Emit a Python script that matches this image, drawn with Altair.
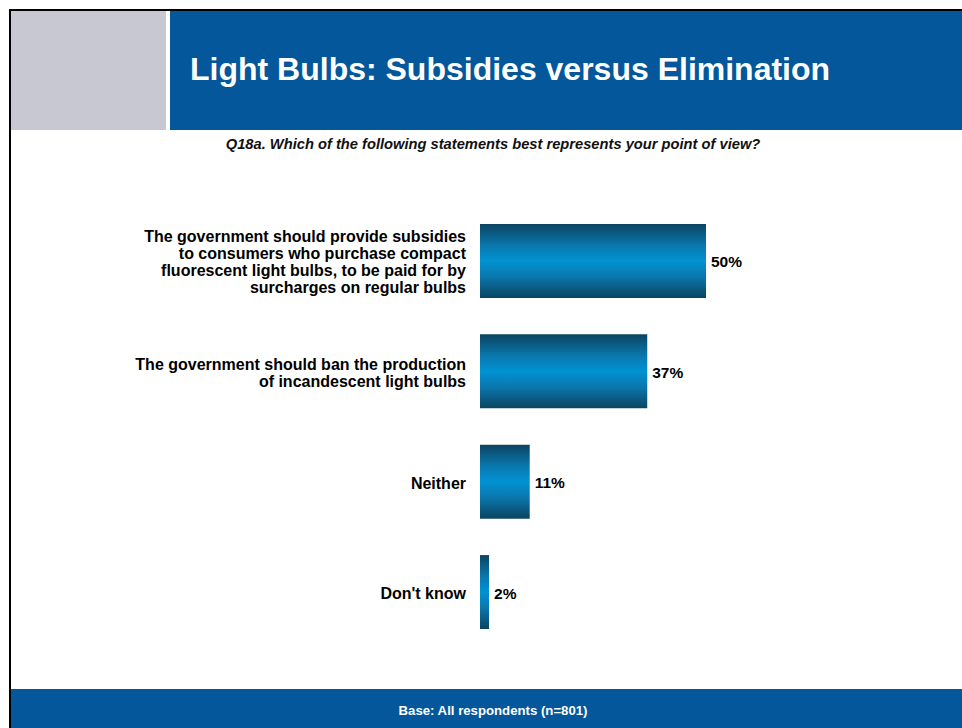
import altair as alt
import pandas as pd

# ---- data ----
categories = ["subsidies", "ban", "neither", "dontknow"]
labels = [
    "The government should provide subsidies\nto consumers who purchase compact\nfluorescent light bulbs, to be paid for by\nsurcharges on regular bulbs",
    "The government should ban the production\nof incandescent light bulbs",
    "Neither",
    "Don't know",
]
values = [50, 37, 11, 2]
value_labels = ["50%", "37%", "11%", "2%"]

title_text = "Light Bulbs: Subsidies versus Elimination"
subtitle_text = "Q18a. Which of the following statements best represents your point of view?"
footer_text = "Base: All respondents (n=801)"

df = pd.DataFrame({"cat": categories, "label": labels, "value": values,
                   "vlabel": value_labels, "zero": [0] * len(values),
                   "nlines": [lab.count("\n") + 1 for lab in labels]})
one = pd.DataFrame({"a": [0]})

FONT = "Liberation Sans"
BLUE = "#03579a"
LINE_H = 17

xscale = alt.Scale(domain=[0, 50], range=[480, 706], nice=False, zero=True)
yscale = alt.Scale(domain=categories, range=[205.75, 647.25],
                   paddingInner=0.33, paddingOuter=0.165)

def rect(x, x2, y, y2, color):
    return alt.Chart(one).mark_rect(color=color).encode(
        x=alt.value(x), x2=alt.value(x2), y=alt.value(y), y2=alt.value(y2))

decor = [
    rect(9, 11, 9, 728, "#000000"),
    rect(9, 962, 9, 11, "#000000"),
    rect(11, 166, 11, 130, "#c8c8d2"),
    rect(170, 962, 11, 130, BLUE),
    rect(11, 962, 689, 728, BLUE),
]

title = alt.Chart(one).mark_text(
    text=title_text, font=FONT, fontSize=32, fontWeight="bold", color="white",
    align="left", baseline="middle").encode(x=alt.value(190), y=alt.value(70))
subtitle = alt.Chart(one).mark_text(
    text=subtitle_text, font=FONT, fontSize=14.7, fontWeight="bold", fontStyle="italic",
    color="#111111", align="center", baseline="middle").encode(x=alt.value(493), y=alt.value(145))
footer = alt.Chart(one).mark_text(
    text=footer_text, font=FONT, fontSize=13.2, fontWeight="bold", color="white",
    align="center", baseline="middle").encode(x=alt.value(493), y=alt.value(711))

gradient = alt.Gradient(
    gradient="linear",
    stops=[
        alt.GradientStop(color="#0b4461", offset=0),
        alt.GradientStop(color="#0a79b0", offset=0.3),
        alt.GradientStop(color="#0092d2", offset=0.5),
        alt.GradientStop(color="#0a79b0", offset=0.7),
        alt.GradientStop(color="#0b4461", offset=1),
    ],
    x1=0, x2=0, y1=0, y2=1,
)

base = alt.Chart(df)
bars = base.mark_bar(color=gradient).encode(
    x=alt.X("value:Q", scale=xscale, axis=None),
    y=alt.Y("cat:N", scale=yscale, axis=None, sort=categories),
)

cat_layers = []
for n in sorted(set(df["nlines"])):
    cat_layers.append(
        base.transform_filter(alt.datum.nlines == n).mark_text(
            font=FONT, fontSize=16, fontWeight="bold", color="#000000",
            align="right", baseline="middle", dx=-14, dy=-(n - 1) * LINE_H / 2 + 2,
            lineBreak="\n", lineHeight=LINE_H,
        ).encode(
            x=alt.X("zero:Q", scale=xscale, axis=None),
            y=alt.Y("cat:N", scale=yscale, axis=None, sort=categories),
            text="label:N",
        )
    )

val_text = base.mark_text(
    font=FONT, fontSize=15.5, fontWeight="bold", color="#000000",
    align="left", baseline="middle", dx=5, dy=1.5,
).encode(
    x=alt.X("value:Q", scale=xscale, axis=None),
    y=alt.Y("cat:N", scale=yscale, axis=None, sort=categories),
    text="vlabel:N",
)

chart = alt.layer(*decor, title, subtitle, footer, bars, *cat_layers, val_text).properties(
    width=962, height=728, padding=0, autosize=alt.AutoSizeParams(type="none"),
    background="white",
).configure_view(stroke=None)

chart.save("out.html", embed_options={"renderer": "svg", "actions": False})
